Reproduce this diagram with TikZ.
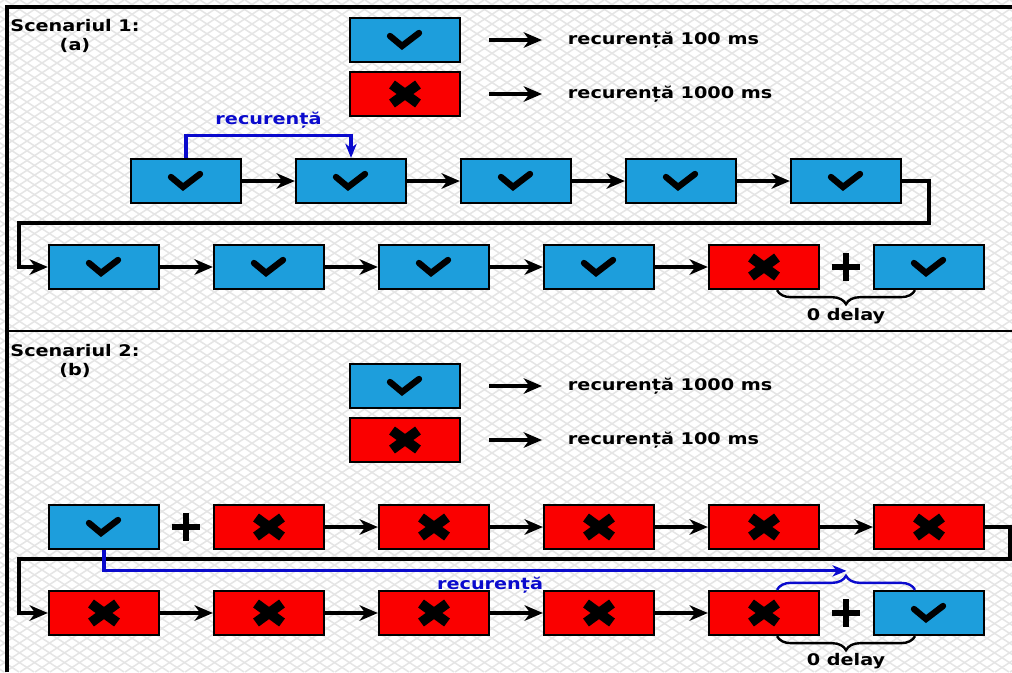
\documentclass[tikz,border=0pt]{standalone}
\usepackage{fontspec}
\setmainfont{DejaVu Sans}[FakeStretch=1.2]
\usetikzlibrary{arrows.meta,calc,decorations.pathreplacing}

\definecolor{okblue}{RGB}{29,158,220}
\definecolor{failred}{RGB}{250,0,0}
\definecolor{recblue}{RGB}{10,10,205}

\tikzset{
  box/.style={draw=black, line width=1.6pt, minimum width=2.75cm, minimum height=1.1cm, inner sep=0pt},
  okbox/.style={box, fill=okblue, path picture={
      \draw[line width=4.5pt, line cap=round] (path picture bounding box.center) ++(-15,-4) -- ++(12,10) -- ++(17,-13);}},
  failbox/.style={box, fill=failred, path picture={
      \draw[line width=7pt] (path picture bounding box.center) ++(-13,-9.5) -- ++(26,19)
                            (path picture bounding box.center) ++(-13,9.5) -- ++(26,-19);}},
  plus/.style={minimum size=0.7cm, inner sep=0pt, path picture={
      \draw[line width=4.2pt] (path picture bounding box.north) -- (path picture bounding box.south)
                              (path picture bounding box.west) -- (path picture bounding box.east);}},
  flow/.style={line width=2.4pt, -{Stealth[length=13pt, width=11pt, inset=4pt]}},
  recur/.style={recblue, line width=2.3pt, -{Stealth[length=10pt, width=8pt, inset=3pt]}},
  brc/.style={decorate, decoration={brace, amplitude=10pt}, line width=1.7pt},
  hatch/.style={black!10, line width=1.1pt},
  title/.style={align=center, inner sep=0pt}
}

\begin{document}
\begin{tikzpicture}[x=0.025cm, y=-0.025cm, every node/.append style={font=\fontsize{11.4}{14}\selectfont\bfseries}]
    \useasboundingbox (0,0) rectangle (1012,672);

    % background grid
    \begin{scope}
    \clip (0,0) rectangle (1012,672);
    \foreach \i in {-1045,-1030,...,1012} {
        \draw[hatch] (\i,0) -- ++(1034,672);
        \draw[hatch] (\i,672) -- ++(1034,-672);
    }
    \end{scope}

    \draw[line width=2.2pt] (7,672) -- (7,7) -- (1012,7);
    \draw[line width=1.8pt] (7,331) -- (1012,331);

    % scenario 1
    \node[title] (sc1) at (75,36) {Scenariul 1:\\(a)};
    \node[okbox] (ok1) at (405,40) {};
    \node[failbox] (fail1) at (405,94) {};
    \node[anchor=west] (ok1txt) at (563,40) {recurență 100 ms};
    \node[anchor=west] (fail1txt) at (563,94) {recurență 1000 ms};
    \draw[flow] ($(ok1.east)+(28,0)$) -- ($(ok1txt.west)+(-21,0)$);
    \draw[flow] ($(fail1.east)+(28,0)$) -- ($(fail1txt.west)+(-21,0)$);

    \foreach \x [count=\i] in {186,351,516,681,846}
        \node[okbox] (s1a\i) at (\x,181) {};
    \foreach \x [count=\i] in {104,269,434,599}
        \node[okbox] (s1b\i) at (\x,267) {};
    \node[failbox] (s1b5) at (764,267) {};
    \node[okbox] (s1b6) at (929,267) {};
    \node[plus] (pl1) at (846,267) {};

    \foreach \i [count=\j from 2] in {1,...,4} {
        \draw[flow] (s1a\i) -- (s1a\j);
        \draw[flow] (s1b\i) -- (s1b\j);
    }
    \draw[flow] (s1a5.east) -- ++(27,0) |- ($(s1b1.west)+(-29,-44)$) |- (s1b1.west);
    \draw[recur] (s1a1.north) -- ++(0,-22) -| node[pos=0.25, above=1pt, recblue] {recurență} (s1a2.north);

    \draw[brc] ($(s1b6.south)+(-14,0)$) -- ($(s1b5.south)+(13,0)$);
    \node (gap1) at (846,316) {0 delay};

    % scenario 2
    \node[title] (sc2) at (75,361) {Scenariul 2:\\(b)};
    \node[okbox] (ok2) at (405,386) {};
    \node[failbox] (fail2) at (405,440) {};
    \node[anchor=west] (ok2txt) at (563,386) {recurență 1000 ms};
    \node[anchor=west] (fail2txt) at (563,440) {recurență 100 ms};
    \draw[flow] ($(ok2.east)+(28,0)$) -- ($(ok2txt.west)+(-21,0)$);
    \draw[flow] ($(fail2.east)+(28,0)$) -- ($(fail2txt.west)+(-21,0)$);

    \node[okbox] (s2a1) at (104,527) {};
    \node[plus] (pl2) at (186,527) {};
    \foreach \x [count=\i from 2] in {269,434,599,764,929}
        \node[failbox] (s2a\i) at (\x,527) {};
    \foreach \x [count=\i] in {104,269,434,599,764}
        \node[failbox] (s2b\i) at (\x,613) {};
    \node[plus] (pl3) at (846,613) {};
    \node[okbox] (s2b6) at (929,613) {};

    \foreach \i [count=\j from 3] in {2,...,5}
        \draw[flow] (s2a\i) -- (s2a\j);
    \foreach \i [count=\j from 2] in {1,...,4}
        \draw[flow] (s2b\i) -- (s2b\j);
    \draw[flow] (s2a6.east) -- ++(25,0) |- ($(s2b1.west)+(-29,-54)$) |- (s2b1.west);

    \draw[brc, recblue] ($(s2b5.north)+(13,0)$) -- ($(s2b6.north)+(-14,0)$);
    \coordinate (tip2) at ($(s2b5.north)!0.5!(s2b6.north)+(0,-19)$);
    \draw[recur] (s2a1.south) |- node[pos=0.76, below=0pt, recblue] {recurență} (tip2);

    \draw[brc] ($(s2b6.south)+(-14,0)$) -- ($(s2b5.south)+(13,0)$);
    \node (gap2) at (846,661) {0 delay};
\end{tikzpicture}
\end{document}
